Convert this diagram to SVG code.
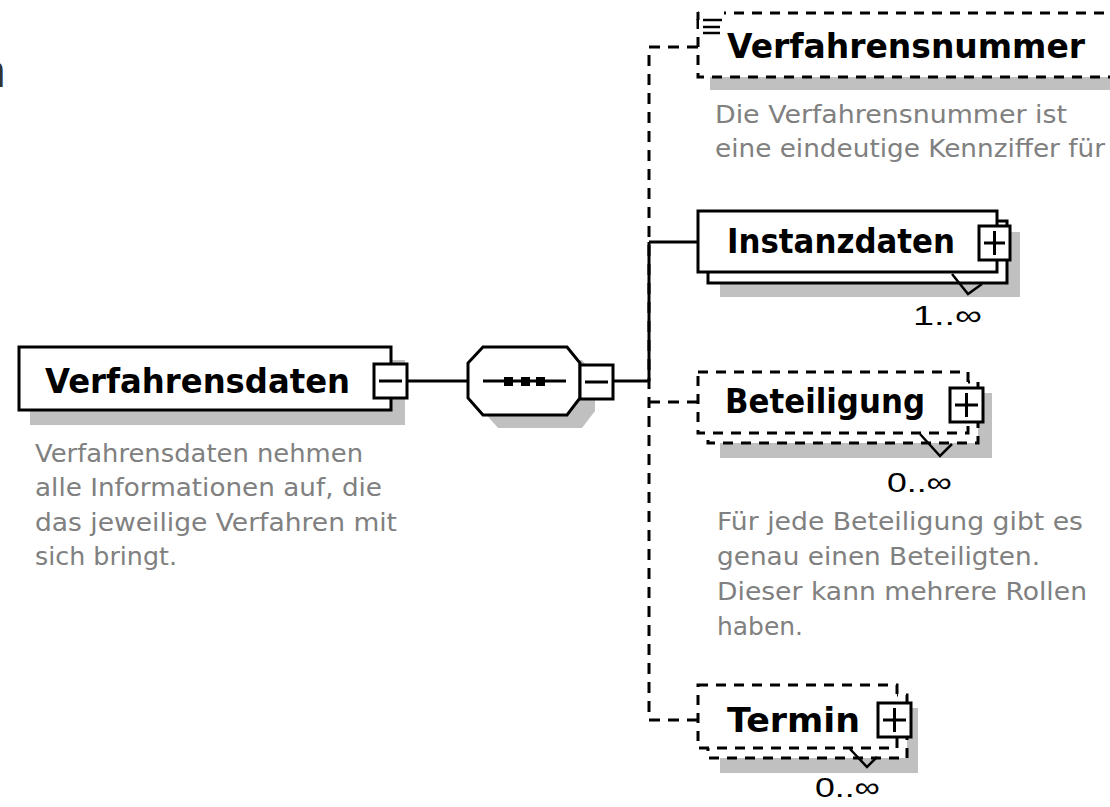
<svg xmlns="http://www.w3.org/2000/svg" width="1110" height="807" viewBox="0 0 1110 807">
<style>
.bg{fill:#ffffff}
.box{fill:#ffffff;stroke:#000;stroke-width:3}
.dbox{fill:#ffffff;stroke:#000;stroke-width:3;stroke-dasharray:10 8}
.shadow{fill:#c0c0c0;stroke:none}
.line{fill:none;stroke:#000;stroke-width:3}
.dline{fill:none;stroke:#000;stroke-width:3;stroke-dasharray:11 8}
.label{font-family:"DejaVu Sans","Liberation Sans",sans-serif;font-weight:bold;font-size:34px;fill:#000}
.desc{font-family:"DejaVu Sans","Liberation Sans",sans-serif;font-size:25px;fill:#808080}
.mult{font-family:"Liberation Sans","DejaVu Sans",sans-serif;font-size:28px;fill:#000}
</style>
<rect class="bg" x="0" y="0" width="1110" height="807"/>
<text x="-20" y="87" style="font-family:'Liberation Sans',sans-serif;font-size:46px;fill:#333">n</text>

<g id="connectors">
  <line class="line" x1="408" y1="381" x2="468" y2="381"/>
  <line class="line" x1="614" y1="381" x2="649" y2="381"/>
  <line class="line" x1="649" y1="242" x2="649" y2="381"/>
  <line class="line" x1="649" y1="242" x2="698" y2="242"/>
  <path class="dline" d="M698 47 H649 V720 H698"/>
  <line class="dline" x1="649" y1="402" x2="698" y2="402"/>
</g>

<g id="verfahrensdaten">
  <rect class="shadow" x="30" y="360" width="375" height="65"/>
  <rect class="box" x="19" y="347" width="372" height="63"/>
  <text class="label" x="45" y="393" textLength="305" lengthAdjust="spacingAndGlyphs">Verfahrensdaten</text>
  <rect class="box" x="374" y="364" width="33" height="34"/>
  <line class="line" x1="379" y1="381" x2="402" y2="381"/>
  <text class="desc" x="35" y="462" textLength="328" lengthAdjust="spacingAndGlyphs">Verfahrensdaten nehmen</text>
  <text class="desc" x="35" y="496" textLength="347" lengthAdjust="spacingAndGlyphs">alle Informationen auf, die</text>
  <text class="desc" x="35" y="531" textLength="362" lengthAdjust="spacingAndGlyphs">das jeweilige Verfahren mit</text>
  <text class="desc" x="35" y="565" textLength="142" lengthAdjust="spacingAndGlyphs">sich bringt.</text>
</g>

<g id="sequence">
  <polygon class="shadow" points="498,360 582,360 595,376 595,411 582,428 498,428 483,411 483,376"/>
  <polygon class="box" points="483,347 567,347 580,363 580,398 567,415 483,415 468,398 468,363"/>
  <line class="line" x1="483" y1="381" x2="566" y2="381"/>
  <rect x="504" y="377" width="9" height="9" fill="#000"/>
  <rect x="521" y="377" width="9" height="9" fill="#000"/>
  <rect x="536" y="377" width="9" height="9" fill="#000"/>
  <rect class="box" x="580" y="365" width="33" height="34"/>
  <line class="line" x1="585" y1="382" x2="608" y2="382"/>
</g>

<g id="verfahrensnummer">
  <rect class="shadow" x="710" y="77" width="410" height="13"/>
  <rect class="dbox" x="698" y="13" width="430" height="64"/>
  <rect x="699" y="3" width="25" height="30" fill="#fff"/>
  <line class="line" x1="698" y1="12" x2="698" y2="20"/>
  <line x1="703" y1="20" x2="722" y2="20" stroke="#000" stroke-width="2.5"/>
  <line x1="703" y1="27" x2="720" y2="27" stroke="#000" stroke-width="2.5"/>
  <line x1="703" y1="33" x2="720" y2="33" stroke="#000" stroke-width="2.5"/>
  <text class="label" x="727" y="58" textLength="358" lengthAdjust="spacingAndGlyphs">Verfahrensnummer</text>
  <text class="desc" x="715" y="123" textLength="352" lengthAdjust="spacingAndGlyphs">Die Verfahrensnummer ist</text>
  <text class="desc" x="715" y="157" textLength="390" lengthAdjust="spacingAndGlyphs">eine eindeutige Kennziffer für</text>
</g>

<g id="instanzdaten">
  <rect class="shadow" x="720" y="232" width="300" height="65"/>
  <rect class="box" x="708" y="221" width="299" height="62"/>
  <rect class="box" x="698" y="211" width="299" height="61"/>
  <polyline points="952,274 968,294 982,284" fill="none" stroke="#000" stroke-width="2.5"/>
  <text class="label" x="727" y="253" textLength="228" lengthAdjust="spacingAndGlyphs">Instanzdaten</text>
  <rect class="box" x="979" y="226" width="31" height="34"/>
  <line class="line" x1="984" y1="243" x2="1005" y2="243"/>
  <line class="line" x1="994.5" y1="231" x2="994.5" y2="255"/>
  <text class="mult" x="913" y="325" textLength="69" lengthAdjust="spacingAndGlyphs">1..∞</text>
</g>

<g id="beteiligung">
  <rect class="shadow" x="720" y="393" width="272" height="65"/>
  <rect class="dbox" x="708" y="382" width="270" height="61"/>
  <rect class="dbox" x="698" y="372" width="270" height="61"/>
  <polyline points="920,434 940,456 952,444" fill="none" stroke="#000" stroke-width="2.5"/>
  <text class="label" x="725" y="413" textLength="200" lengthAdjust="spacingAndGlyphs">Beteiligung</text>
  <rect class="box" x="950" y="388" width="33" height="34"/>
  <line class="line" x1="955" y1="405" x2="978" y2="405"/>
  <line class="line" x1="966.5" y1="393" x2="966.5" y2="417"/>
  <text class="mult" x="887" y="492" textLength="65" lengthAdjust="spacingAndGlyphs">0..∞</text>
  <text class="desc" x="717" y="530" textLength="366" lengthAdjust="spacingAndGlyphs">Für jede Beteiligung gibt es</text>
  <text class="desc" x="717" y="565" textLength="323" lengthAdjust="spacingAndGlyphs">genau einen Beteiligten.</text>
  <text class="desc" x="717" y="600" textLength="370" lengthAdjust="spacingAndGlyphs">Dieser kann mehrere Rollen</text>
  <text class="desc" x="717" y="635" textLength="86" lengthAdjust="spacingAndGlyphs">haben.</text>
</g>

<g id="termin">
  <rect class="shadow" x="720" y="708" width="198" height="65"/>
  <rect class="dbox" x="708" y="695" width="199" height="63"/>
  <rect class="dbox" x="698" y="685" width="199" height="63"/>
  <polyline points="850,749 867,767 877,757" fill="none" stroke="#000" stroke-width="2.5"/>
  <text class="label" x="727" y="732" textLength="133" lengthAdjust="spacingAndGlyphs">Termin</text>
  <rect class="box" x="878" y="703" width="33" height="34"/>
  <line class="line" x1="883" y1="720" x2="906" y2="720"/>
  <line class="line" x1="894.5" y1="708" x2="894.5" y2="732"/>
  <text class="mult" x="815" y="797" textLength="65" lengthAdjust="spacingAndGlyphs">0..∞</text>
</g>
</svg>
